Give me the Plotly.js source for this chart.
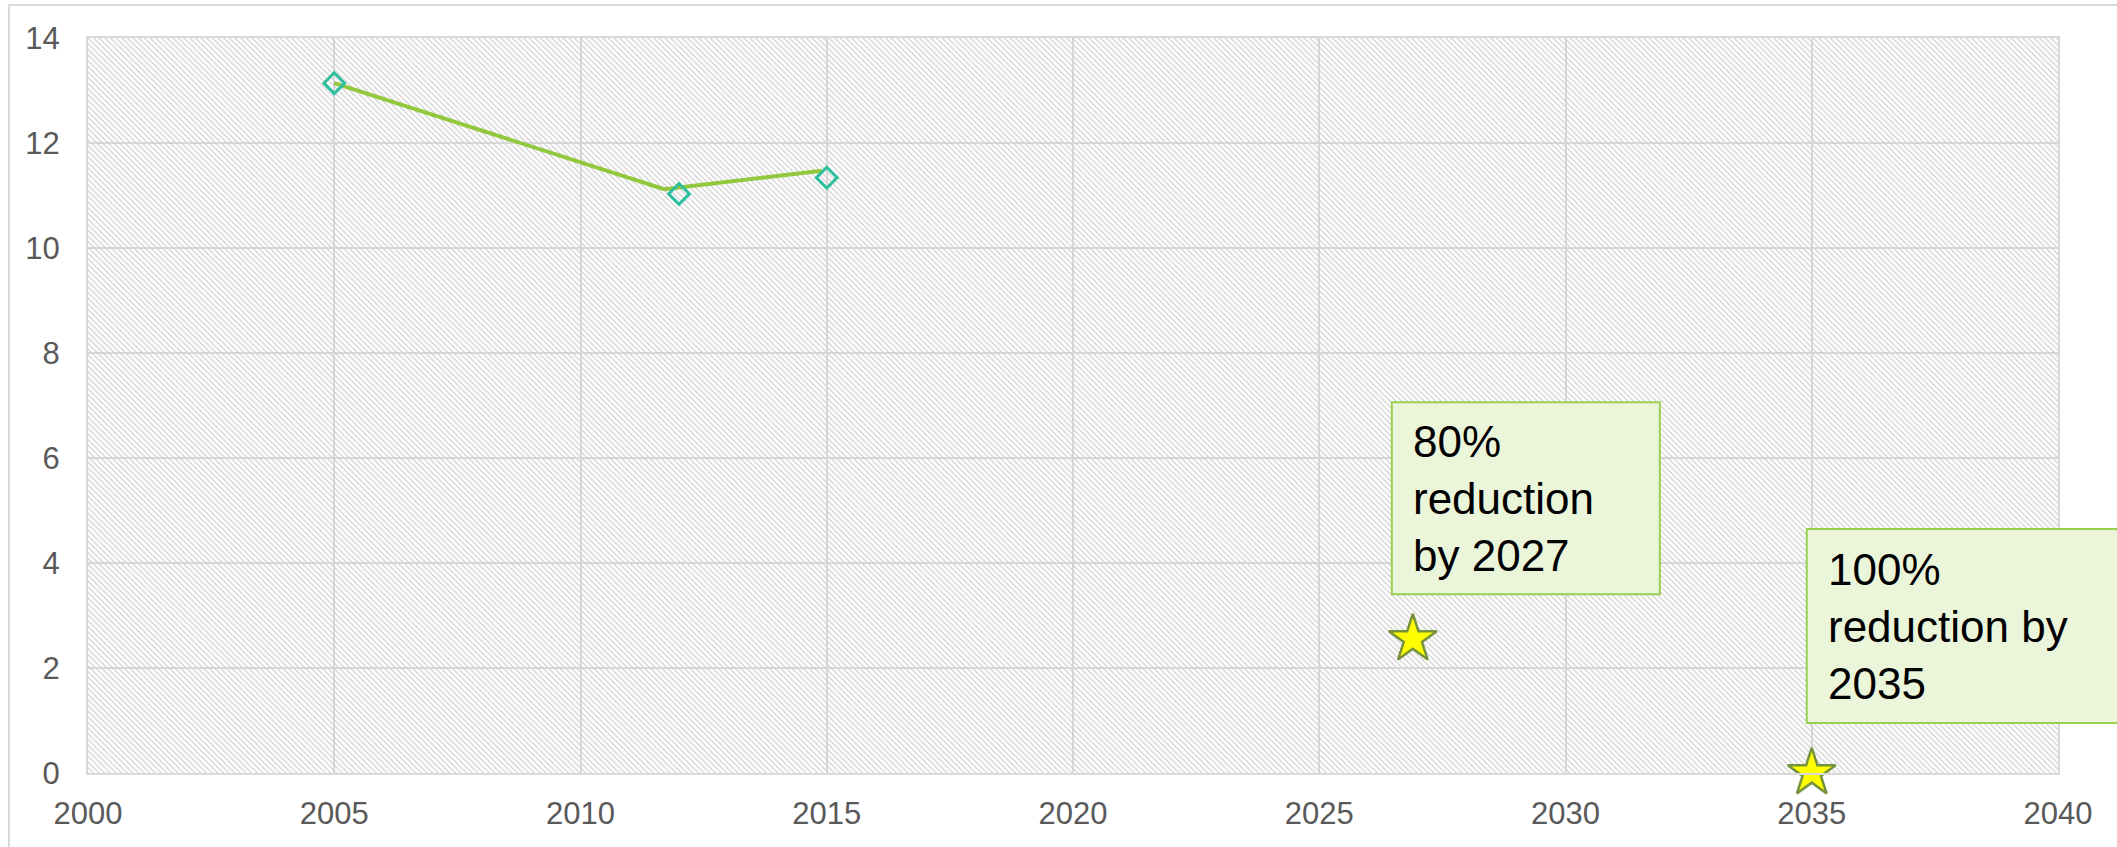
<!DOCTYPE html>
<html>
<head>
<meta charset="utf-8">
<script src="https://cdn.plot.ly/plotly-3.0.1.min.js"></script>
<style>
  html, body { margin: 0; padding: 0; background: #ffffff; }
  #wrap { position: relative; width: 2117px; height: 847px; overflow: hidden; }
  #chart { position: absolute; left: 0; top: 0; width: 2117px; height: 847px; }
  #frame { position: absolute; left: 8px; top: 4px; width: 2200px; height: 900px;
           border-top: 2px solid #d9d9d9; border-left: 2px solid #d9d9d9; pointer-events: none; }
</style>
</head>
<body>
<div id="wrap">
  <div id="chart"></div>
  <div id="frame"></div>
</div>
<script>
// ---- data ----
const years = [2005, 2012, 2015];
const emissions = [13.14, 11.03, 11.34];
const lineYears = [2005, 2011.7, 2014.9];
const lineValues = [13.14, 11.12, 11.47];
const targetYears = [2026.9, 2035];
const targetValues = [2.55, 0];
const targetLabels = ['80%<br>reduction<br>by 2027', '100%<br>reduction by<br>2035'];
const xTicks = [2000, 2005, 2010, 2015, 2020, 2025, 2030, 2035, 2040];
const yTicks = [0, 2, 4, 6, 8, 10, 12, 14];
const xRange = [2000, 2040];
const yRange = [0, 14];

// ---- styling (pixel offsets of the callout boxes from their target star) ----
const boxOffsets = [
  {x0: -21, x1: 247, y0: 45, y1: 237},
  {x0: -5, x1: 340, y0: 50, y1: 244}
];

const xp = v => (v - xRange[0]) / (xRange[1] - xRange[0]);
const yp = v => (v - yRange[0]) / (yRange[1] - yRange[0]);

const hatch = {
  x: [xRange[0], xRange[1], xRange[1], xRange[0], xRange[0]],
  y: [yRange[0], yRange[0], yRange[1], yRange[1], yRange[0]],
  mode: 'lines', fill: 'toself', line: {width: 0},
  fillcolor: 'rgba(0,0,0,0)',
  fillpattern: {shape: '\\', fgcolor: '#cfcfcf', bgcolor: 'rgba(0,0,0,0)', size: 4, solidity: 0.3},
  hoverinfo: 'skip', showlegend: false
};

const lineTrace = {
  x: lineYears, y: lineValues, mode: 'lines',
  line: {color: '#92C83E', width: 4}, showlegend: false, hoverinfo: 'skip'
};

const markerTrace = {
  x: years, y: emissions, mode: 'markers',
  marker: {symbol: 'diamond-open', size: 16, color: '#2DBE9E', line: {width: 3, color: '#2DBE9E'}},
  showlegend: false
};

const starTrace = {
  x: targetYears, y: targetValues, mode: 'markers', cliponaxis: false,
  marker: {symbol: 'star', size: 36, color: '#FFFF00', line: {width: 2.5, color: '#76923C'}},
  showlegend: false
};

const shapes = targetYears.map((t, i) => ({
  type: 'rect', xref: 'paper', yref: 'paper',
  xsizemode: 'pixel', ysizemode: 'pixel',
  xanchor: xp(t), yanchor: yp(targetValues[i]),
  x0: boxOffsets[i].x0, x1: boxOffsets[i].x1, y0: boxOffsets[i].y0, y1: boxOffsets[i].y1,
  fillcolor: '#EBF5DA', line: {color: '#9BCF50', width: 2}, layer: 'above'
}));

const annotations = targetYears.map((t, i) => ({
  x: t, y: targetValues[i], xref: 'x', yref: 'y',
  text: targetLabels[i], showarrow: false, align: 'left',
  xanchor: 'left', yanchor: 'middle', borderpad: 0,
  xshift: boxOffsets[i].x0 + 20,
  yshift: (boxOffsets[i].y0 + boxOffsets[i].y1) / 2,
  font: {family: 'Liberation Sans, Arial, sans-serif', size: 44, color: '#000000'}
}));

const tickFont = {family: 'Liberation Sans, Arial, sans-serif', size: 31, color: '#595959'};

const layout = {
  width: 2117, height: 847,
  margin: {l: 88, r: 59, t: 38, b: 74, pad: 0},
  paper_bgcolor: '#ffffff', plot_bgcolor: '#ffffff',
  showlegend: false,
  xaxis: {
    range: xRange, tickvals: xTicks, ticktext: xTicks.map(String),
    showgrid: true, gridcolor: '#d9d9d9', gridwidth: 2,
    zeroline: false, showline: true, mirror: true, linecolor: '#d9d9d9', linewidth: 2,
    ticks: '', tickfont: tickFont, ticklabelstandoff: 12
  },
  yaxis: {
    range: yRange, tickvals: yTicks, ticktext: yTicks.map(String),
    showgrid: true, gridcolor: '#d9d9d9', gridwidth: 2,
    zeroline: false, showline: true, mirror: true, linecolor: '#d9d9d9', linewidth: 2,
    ticks: '', tickfont: tickFont, ticklabelstandoff: 20
  },
  shapes: shapes,
  annotations: annotations
};

Plotly.newPlot('chart', [hatch, lineTrace, markerTrace, starTrace], layout, {displayModeBar: false, staticPlot: true});
</script>
</body>
</html>
